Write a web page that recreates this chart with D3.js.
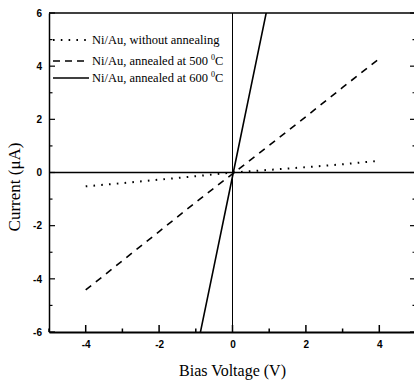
<!DOCTYPE html>
<html><head><meta charset="utf-8">
<script src="https://cdn.jsdelivr.net/npm/d3@7"></script>
<style>body{margin:0;background:#fff}svg{display:block}</style>
</head><body><svg id="c" width="414" height="384"></svg>
<script>
const xTicks = [-4, -2, 0, 2, 4];
const yTicks = [-6, -4, -2, 0, 2, 4, 6];
const seriesNames = ["Ni/Au, without annealing", "Ni/Au, annealed at 500 ", "Ni/Au, annealed at 600 "];
const volts0 = [-4, -3, -2, -1, 0, 1, 2, 3, 4];
const cur0 = [-0.52, -0.40, -0.27, -0.14, 0, 0.10, 0.20, 0.31, 0.44];
const volts1 = [-4, -3, -2, -1, 0, 1, 2, 3, 4];
const cur1 = [-4.42, -3.32, -2.22, -1.12, -0.05, 1.02, 2.1, 3.2, 4.28];
const volts2 = [-1.0, -0.5, 0, 0.5, 1.0];
const cur2 = [-6.85, -3.5, -0.15, 3.2, 6.55];

const svg = d3.select("#c");
const x = d3.scaleLinear().domain([-5, 5]).range([49, 416]);
const y = d3.scaleLinear().domain([-6, 6]).range([332, 13]);
const font = "'Liberation Serif', 'Times New Roman', serif";
const tfont = "'Liberation Sans', Arial, sans-serif";
const fmt = d => String(d);

svg.append("clipPath").attr("id", "pc").append("rect")
  .attr("x", x(-5)).attr("y", y(6)).attr("width", x(5) - x(-5)).attr("height", y(-6) - y(6));

// zero lines
svg.append("line").attr("x1", x(0)).attr("x2", x(0)).attr("y1", y(6)).attr("y2", y(-6))
  .attr("stroke", "#000").attr("stroke-width", 1);
svg.append("line").attr("x1", x(-5)).attr("x2", x(5)).attr("y1", y(0)).attr("y2", y(0))
  .attr("stroke", "#000").attr("stroke-width", 1.5);

const minorX = d3.range(-5, 5.01, 1);
const minorY = d3.range(-6, 6.01, 1);

// bottom axis
const gx = svg.append("g").attr("transform", `translate(0,${y(-6)})`)
  .call(d3.axisBottom(x).tickValues(xTicks).tickSize(0).tickPadding(9).tickFormat(fmt));
gx.select(".domain").attr("stroke-width", 2);
gx.selectAll("text").attr("font-family", tfont).attr("font-weight", "bold").attr("font-size", 10);
gx.selectAll(".mt").data(minorX).enter().append("line")
  .attr("x1", d => x(d)).attr("x2", d => x(d)).attr("y1", 0)
  .attr("y2", d => xTicks.includes(d) ? -7 : -3.5).attr("stroke", "#000").attr("stroke-width", 1.5);

// left axis
const gy = svg.append("g").attr("transform", `translate(${x(-5)},0)`)
  .call(d3.axisLeft(y).tickValues(yTicks).tickSize(0).tickPadding(7).tickFormat(fmt));
gy.select(".domain").attr("stroke-width", 1.5);
gy.selectAll("text").attr("font-family", tfont).attr("font-weight", "bold").attr("font-size", 10);
gy.selectAll(".mt").data(minorY).enter().append("line")
  .attr("y1", d => y(d)).attr("y2", d => y(d)).attr("x1", 0)
  .attr("x2", d => yTicks.includes(d) ? 6 : 3.5).attr("stroke", "#000").attr("stroke-width", 1.2);

// top axis
svg.append("line").attr("x1", x(-5)).attr("x2", x(5)).attr("y1", y(6)).attr("y2", y(6))
  .attr("stroke", "#000").attr("stroke-width", 1.5);
// right axis (mostly off-canvas) with inward ticks
const gr = svg.append("g").attr("transform", `translate(${x(5)},0)`);
gr.append("line").attr("y1", y(6)).attr("y2", y(-6)).attr("stroke", "#000").attr("stroke-width", 1.5);
gr.selectAll(".mt").data(minorY).enter().append("line")
  .attr("y1", d => y(d)).attr("y2", d => y(d)).attr("x1", 0)
  .attr("x2", d => yTicks.includes(d) ? -6 : -3.5).attr("stroke", "#000").attr("stroke-width", 1.2);

const line = d3.line().x(d => x(d[0])).y(d => y(d[1]));
const plot = svg.append("g").attr("clip-path", "url(#pc)");
plot.append("path").datum(d3.zip(volts0, cur0)).attr("d", line).attr("fill", "none")
  .attr("stroke", "#000").attr("stroke-width", 2).attr("stroke-dasharray", "1.6,6.2");
plot.append("path").datum(d3.zip(volts1, cur1)).attr("d", line).attr("fill", "none")
  .attr("stroke", "#000").attr("stroke-width", 1.6).attr("stroke-dasharray", "7,6");
plot.append("path").datum(d3.zip(volts2, cur2)).attr("d", line).attr("fill", "none")
  .attr("stroke", "#000").attr("stroke-width", 1.6);

// legend
const styles = [{w: 2, da: "1.6,6.2"}, {w: 1.6, da: "7,5"}, {w: 1.4, da: null}];
const ly = [40, 61, 78];
const lg = svg.append("g");
seriesNames.forEach((n, i) => {
  lg.append("line").attr("x1", 53).attr("x2", 89).attr("y1", ly[i]).attr("y2", ly[i])
    .attr("stroke", "#000").attr("stroke-width", styles[i].w)
    .attr("stroke-dasharray", styles[i].da);
  const t = lg.append("text").attr("x", 92).attr("y", ly[i] + 4).attr("font-family", font)
    .attr("font-size", 12.5).text(n);
  if (i > 0) {
    t.append("tspan").attr("dy", -5).attr("font-size", 8).text("0");
    t.append("tspan").attr("dy", 5).text("C");
  }
});

// axis titles
svg.append("text").attr("x", x(0)).attr("y", 376).attr("text-anchor", "middle")
  .attr("font-family", font).attr("font-size", 16).text("Bias Voltage (V)");
svg.append("text").attr("transform", `translate(20,187) rotate(-90)`).attr("text-anchor", "middle")
  .attr("font-family", font).attr("font-size", 17).text("Current (\u03bcA)");
</script></body></html>
